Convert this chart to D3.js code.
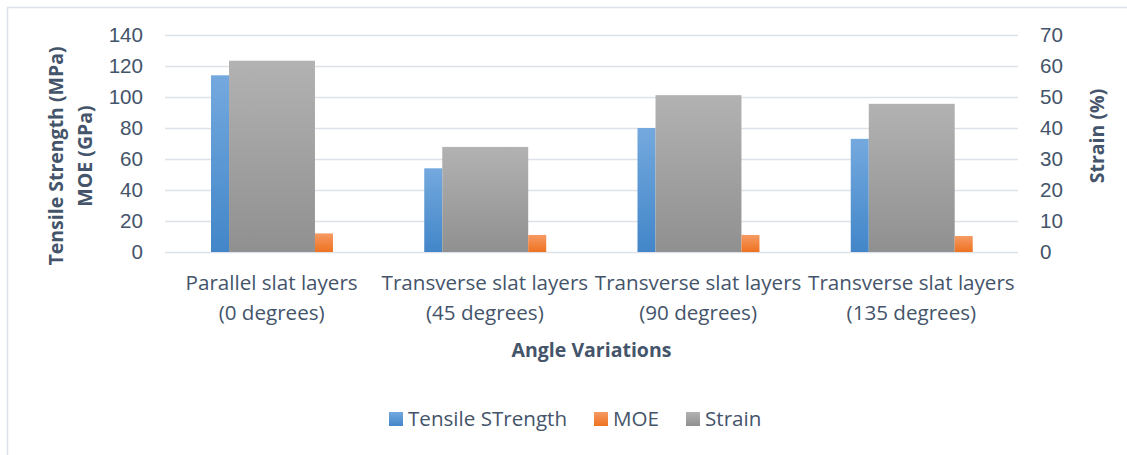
<!DOCTYPE html>
<html lang="en">
<head>
    <meta charset="UTF-8">
    <title>Tensile Strength, MOE and Strain by Angle Variation</title>
    <script src="https://d3js.org/d3.v7.min.js"></script>
    <style>
        body { margin: 0; background: #fff; }
        svg { display: block; font-family: "Open Sans", sans-serif; }
    </style>
</head>
<body>
    <svg width="1127" height="455"></svg>

    <script>
        // chart data
        const categories = [
            ["Parallel slat layers", "(0 degrees)"],
            ["Transverse slat layers", "(45 degrees)"],
            ["Transverse slat layers", "(90 degrees)"],
            ["Transverse slat layers", "(135 degrees)"]
        ];
        const tensile = [114, 54, 80, 73];
        const moe = [12, 11, 11, 10.3];
        const strain = [61.7, 33.9, 50.6, 47.8];
        const leftTicks = [0, 20, 40, 60, 80, 100, 120, 140];
        const rightTicks = [0, 10, 20, 30, 40, 50, 60, 70];
        const seriesNames = ["Tensile STrength", "MOE", "Strain"];

        const textColor = "#44546a";
        const fs = "20.6px";
        const svg = d3.select("svg");

        // outer frame (runs off the right / bottom like the screenshot)
        svg.append("rect")
            .attr("x", 7.5).attr("y", 7.5)
            .attr("width", 1140).attr("height", 470)
            .attr("fill", "none")
            .attr("stroke", "#dde2e8")
            .attr("stroke-width", 1.5);

        const plotL = 165, plotR = 1018, plotT = 35, plotB = 252;

        const x = d3.scaleBand()
            .domain(d3.range(categories.length))
            .range([plotL, plotR])
            .padding(0);
        const y = d3.scaleLinear().domain([0, 140]).range([plotB, plotT]);
        const y2 = d3.scaleLinear().domain([0, 70]).range([plotB, plotT]);

        // gradients
        const defs = svg.append("defs");
        const grads = [
            ["gBlue", "#74a9de", "#4286c9"],
            ["gOrange", "#f69a63", "#ee7220"],
            ["gGray", "#b2b2b2", "#909090"]
        ];
        grads.forEach(([id, c1, c2]) => {
            const lg = defs.append("linearGradient")
                .attr("id", id)
                .attr("x1", 0).attr("y1", 0).attr("x2", 0).attr("y2", 1);
            lg.append("stop").attr("offset", "0%").attr("stop-color", c1);
            lg.append("stop").attr("offset", "100%").attr("stop-color", c2);
        });

        // gridlines
        svg.append("g")
            .selectAll("line")
            .data(leftTicks)
            .join("line")
            .attr("x1", plotL).attr("x2", plotR)
            .attr("y1", d => Math.round(y(d)) + 0.5)
            .attr("y2", d => Math.round(y(d)) + 0.5)
            .attr("stroke", "#dde2e8")
            .attr("stroke-width", 1.5);

        // bars
        const bw = x.bandwidth();
        const slim = bw * 0.0845;
        const wide = bw * 0.403;

        svg.append("g").selectAll("rect")
            .data(tensile)
            .join("rect")
            .attr("x", (d, i) => x(i) + bw * 0.2157)
            .attr("width", slim)
            .attr("y", d => y(d))
            .attr("height", d => y(0) - y(d))
            .attr("fill", "url(#gBlue)");

        svg.append("g").selectAll("rect")
            .data(strain)
            .join("rect")
            .attr("x", (d, i) => x(i) + bw * 0.2157 + slim)
            .attr("width", wide)
            .attr("y", d => y2(d))
            .attr("height", d => y2(0) - y2(d))
            .attr("fill", "url(#gGray)");

        svg.append("g").selectAll("rect")
            .data(moe)
            .join("rect")
            .attr("x", (d, i) => x(i) + bw * 0.2157 + slim + wide)
            .attr("width", slim)
            .attr("y", d => y(d))
            .attr("height", d => y(0) - y(d))
            .attr("fill", "url(#gOrange)");

        // left axis
        const leftAxis = svg.append("g")
            .attr("transform", `translate(${plotL - 22},0)`)
            .call(d3.axisLeft(y).tickValues(leftTicks).tickSize(0).tickPadding(0));
        leftAxis.select(".domain").remove();
        leftAxis.selectAll("text")
            .attr("fill", textColor)
            .style("font-size", fs);

        // right axis
        const rightAxis = svg.append("g")
            .attr("transform", `translate(${plotR + 22},0)`)
            .call(d3.axisRight(y2).tickValues(rightTicks).tickSize(0).tickPadding(0));
        rightAxis.select(".domain").remove();
        rightAxis.selectAll("text")
            .attr("fill", textColor)
            .style("font-size", fs);

        // category labels
        const cat = svg.append("g");
        categories.forEach((lines, i) => {
            const t = cat.append("text")
                .attr("x", x(i) + bw / 2)
                .attr("y", 290)
                .attr("text-anchor", "middle")
                .attr("fill", textColor)
                .style("font-size", fs);
            lines.forEach((ln, j) => {
                t.append("tspan")
                    .attr("x", x(i) + bw / 2)
                    .attr("dy", j === 0 ? 0 : 30)
                    .text(ln);
            });
        });

        // axis titles
        svg.append("text")
            .attr("x", (plotL + plotR) / 2)
            .attr("y", 357)
            .attr("text-anchor", "middle")
            .attr("fill", textColor)
            .style("font-size", "19.5px")
            .style("font-weight", "bold")
            .text("Angle Variations");

        const lt = svg.append("text")
            .attr("transform", "translate(63,156) rotate(-90)")
            .attr("text-anchor", "middle")
            .attr("fill", textColor)
            .style("font-size", "19.5px")
            .style("font-weight", "bold");
        lt.append("tspan").attr("x", 0).attr("dy", 0).text("Tensile Strength (MPa)");
        lt.append("tspan").attr("x", 0).attr("dy", 29).text("MOE (GPa)");

        svg.append("text")
            .attr("transform", "translate(1104,136) rotate(-90)")
            .attr("text-anchor", "middle")
            .attr("fill", textColor)
            .style("font-size", "19.5px")
            .style("font-weight", "bold")
            .text("Strain (%)");

        // legend
        const legendItems = [
            { name: seriesNames[0], fill: "url(#gBlue)", x: 389 },
            { name: seriesNames[1], fill: "url(#gOrange)", x: 594 },
            { name: seriesNames[2], fill: "url(#gGray)", x: 686 }
        ];
        const lg = svg.append("g");
        legendItems.forEach(it => {
            lg.append("rect")
                .attr("x", it.x).attr("y", 412)
                .attr("width", 14).attr("height", 14)
                .attr("fill", it.fill);
            lg.append("text")
                .attr("x", it.x + 19)
                .attr("y", 426)
                .attr("fill", textColor)
                .style("font-size", fs)
                .text(it.name);
        });
    </script>
</body>
</html>
